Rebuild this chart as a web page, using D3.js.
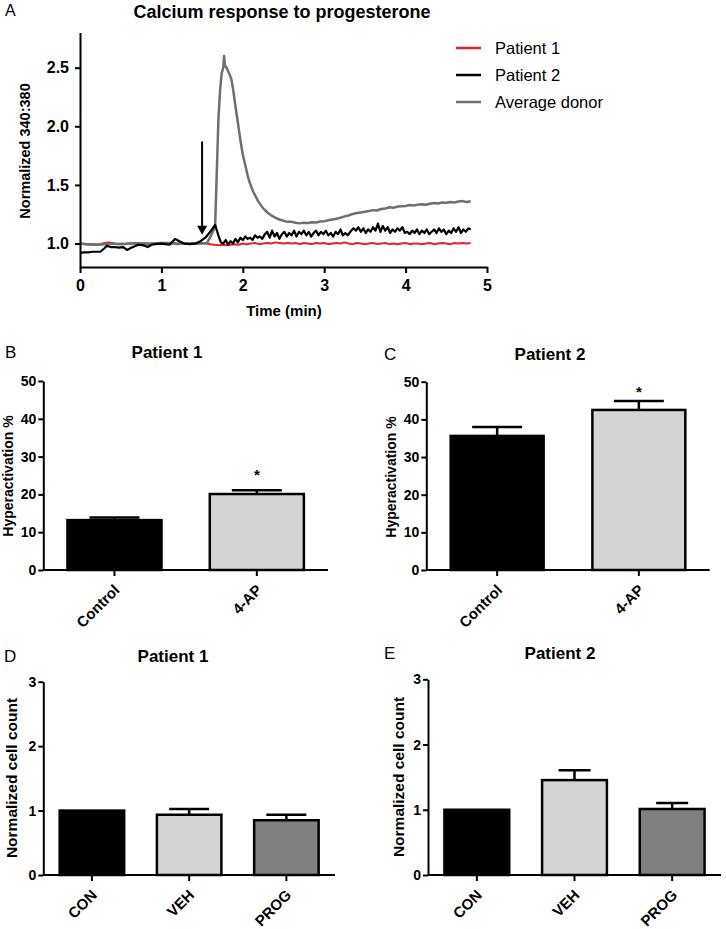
<!DOCTYPE html>
<html>
<head>
<meta charset="utf-8">
<script src="https://cdn.jsdelivr.net/npm/d3@7"></script>
<style>
  html, body { margin: 0; padding: 0; background: #fff; }
  svg { display: block; font-family: "Liberation Sans", Arial, sans-serif; }
</style>
</head>
<body>
<svg id="chart" width="726" height="929"></svg>
<script>
// ---------------- DATA ----------------
// Panel A: calcium response (time in min, normalized 340:380)
const patient1Trace = [
  [0.00,1.000],[0.05,0.995],[0.10,0.990],[0.15,0.995],[0.20,0.990],[0.25,0.995],[0.30,1.005],[0.35,1.010],
  [0.40,1.005],[0.45,0.995],[0.50,1.000],[0.55,0.995],[0.60,1.000],[0.65,1.000],[0.70,1.005],[0.75,1.000],
  [0.80,1.000],[0.85,0.995],[0.90,1.000],[0.95,1.000],[1.00,1.000],[1.05,1.000],[1.10,1.005],[1.15,1.000],
  [1.20,0.995],[1.25,1.000],[1.30,1.000],[1.35,1.000],[1.40,1.005],[1.45,1.000],[1.50,1.005],[1.55,1.000],
  [1.60,0.995],[1.65,0.990],[1.70,0.985],[1.75,0.990],[1.80,0.985],[1.85,0.990],[1.90,0.995],[1.95,0.990],
  [2.00,1.000],[2.05,0.995],[2.10,1.000],[2.15,1.005],[2.20,0.995],[2.25,1.000],[2.30,1.005],[2.35,1.000],
  [2.40,1.010],[2.45,1.005],[2.50,1.000],[2.55,1.005],[2.60,1.000],[2.65,1.005],[2.70,0.995],[2.75,1.005],
  [2.80,1.000],[2.85,0.995],[2.90,1.005],[2.95,1.000],[3.00,1.005],[3.05,0.995],[3.10,1.000],[3.15,1.005],
  [3.20,1.000],[3.25,1.010],[3.30,1.000],[3.35,0.995],[3.40,1.005],[3.45,1.000],[3.50,0.995],[3.55,1.000],
  [3.60,1.005],[3.65,0.995],[3.70,1.000],[3.75,1.005],[3.80,0.995],[3.85,1.000],[3.90,0.995],[3.95,1.000],
  [4.00,1.005],[4.05,0.995],[4.10,1.000],[4.15,1.000],[4.20,0.995],[4.25,1.000],[4.30,1.005],[4.35,0.995],
  [4.40,1.000],[4.45,1.005],[4.50,1.000],[4.55,0.995],[4.60,1.005],[4.65,1.000],[4.70,1.005],[4.75,1.000],[4.80,1.005]
];
const patient2Trace = [
  [0.00,0.920],[0.05,0.925],[0.10,0.925],[0.15,0.930],[0.20,0.930],[0.25,0.930],[0.30,0.960],[0.33,0.980],
  [0.38,0.970],[0.43,0.970],[0.48,0.965],[0.53,0.970],[0.58,0.945],[0.63,0.965],[0.68,0.980],[0.72,0.990],
  [0.78,0.985],[0.83,0.970],[0.88,0.990],[0.93,0.995],[1.00,1.000],[1.05,0.995],[1.10,0.990],[1.17,1.040],
  [1.22,1.020],[1.28,1.000],[1.35,0.995],[1.42,1.000],[1.48,1.020],[1.54,1.050],[1.60,1.100],[1.66,1.160],
  [1.70,1.070],[1.73,1.010],[1.76,1.000],[1.79,1.030],[1.82,0.990],[1.85,1.020],[1.88,1.000],[1.91,1.040],
  [1.94,1.010],[1.97,1.050],[2.00,1.030],[2.03,1.060],[2.06,1.040],[2.09,1.050],[2.12,1.030],[2.15,1.070],
  [2.18,1.050],[2.21,1.060],[2.24,1.040],[2.27,1.080],[2.30,1.100],[2.33,1.050],[2.36,1.110],[2.39,1.060],
  [2.42,1.090],[2.45,1.040],[2.48,1.080],[2.51,1.100],[2.54,1.060],[2.57,1.090],[2.60,1.070],[2.63,1.110],
  [2.66,1.060],[2.69,1.100],[2.72,1.080],[2.75,1.110],[2.78,1.070],[2.81,1.100],[2.84,1.060],[2.87,1.090],
  [2.90,1.110],[2.93,1.070],[2.96,1.100],[2.99,1.080],[3.02,1.110],[3.05,1.070],[3.08,1.090],[3.11,1.060],
  [3.14,1.100],[3.17,1.080],[3.20,1.120],[3.23,1.070],[3.26,1.090],[3.29,1.070],[3.32,1.100],[3.36,1.130],
  [3.39,1.110],[3.42,1.140],[3.45,1.100],[3.48,1.130],[3.51,1.090],[3.54,1.120],[3.57,1.100],[3.60,1.140],
  [3.63,1.110],[3.66,1.170],[3.69,1.100],[3.72,1.150],[3.75,1.110],[3.78,1.140],[3.81,1.090],[3.84,1.120],
  [3.87,1.100],[3.90,1.130],[3.93,1.110],[3.96,1.140],[3.99,1.090],[4.02,1.100],[4.05,1.080],[4.08,1.110],
  [4.11,1.090],[4.14,1.120],[4.17,1.080],[4.20,1.110],[4.23,1.090],[4.26,1.120],[4.29,1.080],[4.32,1.100],
  [4.35,1.120],[4.38,1.090],[4.41,1.130],[4.44,1.100],[4.47,1.120],[4.50,1.080],[4.53,1.110],[4.56,1.090],
  [4.59,1.130],[4.62,1.100],[4.65,1.140],[4.68,1.090],[4.71,1.120],[4.74,1.100],[4.77,1.130],[4.80,1.120]
];
const donorTrace = [
  [0.00,1.000],[0.10,0.995],[0.20,0.990],[0.30,0.995],[0.40,1.000],[0.50,0.995],[0.60,1.000],[0.70,1.000],
  [0.80,1.000],[0.90,1.000],[1.00,1.005],[1.10,1.005],[1.20,1.000],[1.30,1.000],[1.40,1.000],[1.50,1.000],
  [1.56,1.005],[1.61,1.070],[1.66,1.140],[1.68,1.600],[1.70,2.050],[1.72,2.300],[1.74,2.450],[1.76,2.500],
  [1.77,2.600],[1.78,2.520],[1.80,2.500],[1.82,2.470],[1.84,2.440],[1.86,2.400],[1.88,2.320],[1.90,2.220],
  [1.92,2.120],[1.94,2.030],[1.96,1.930],[1.98,1.840],[2.00,1.760],[2.02,1.700],[2.04,1.640],[2.06,1.580],
  [2.08,1.530],[2.10,1.490],[2.13,1.440],[2.16,1.400],[2.19,1.360],[2.22,1.330],[2.25,1.300],[2.28,1.280],
  [2.31,1.260],[2.35,1.240],[2.40,1.220],[2.45,1.205],[2.50,1.195],[2.55,1.185],[2.60,1.185],[2.65,1.178],
  [2.70,1.172],[2.75,1.178],[2.80,1.175],[2.85,1.182],[2.90,1.180],[2.95,1.188],[3.00,1.190],[3.05,1.198],
  [3.10,1.205],[3.15,1.212],[3.20,1.220],[3.25,1.232],[3.30,1.240],[3.35,1.252],[3.40,1.260],[3.45,1.265],
  [3.50,1.272],[3.55,1.278],[3.60,1.285],[3.65,1.282],[3.70,1.295],[3.75,1.298],[3.80,1.310],[3.85,1.306],
  [3.90,1.315],[3.95,1.318],[4.00,1.320],[4.05,1.328],[4.10,1.325],[4.15,1.332],[4.20,1.335],[4.25,1.331],
  [4.30,1.340],[4.35,1.345],[4.40,1.342],[4.45,1.350],[4.50,1.348],[4.55,1.355],[4.60,1.350],[4.65,1.358],
  [4.70,1.362],[4.75,1.355],[4.80,1.360]
];
const traceNames = ["Patient 1", "Patient 2", "Average donor"];
const timeTicks = [0, 1, 2, 3, 4, 5];
const ratioTicks = [1.0, 1.5, 2.0, 2.5];
const arrowTime = 1.5, arrowFrom = 1.87, arrowTo = 1.075;

// Panels B / C: hyperactivation %
const hyperCategories = ["Control", "4-AP"];
const hyperP1 = [13.2, 20.1];
const hyperP1Err = [0.7, 1.0];
const hyperP2 = [35.6, 42.5];
const hyperP2Err = [2.4, 2.4];
const hyperTicks = [0, 10, 20, 30, 40, 50];
const hyperStar = [26, 48];   // height (value units) of the * above 4-AP in B, C

// Panels D / E: normalized cell count
const countCategories = ["CON", "VEH", "PROG"];
const countP1 = [1.0, 0.935, 0.85];
const countP1Err = [0, 0.09, 0.085];
const countP2 = [1.0, 1.455, 1.012];
const countP2Err = [0, 0.15, 0.09];
const countTicks = [0, 1, 2, 3];

// ---------------- DRAW ----------------
const svg = d3.select("#chart");
const FONT = '"Liberation Sans", Arial, sans-serif';
const RED = "#e8202a", GRAY_LINE = "#6f6f6f";
const LIGHT = "#d4d4d4", DARK = "#808080";

function styleAxis(g, fs) {
  g.selectAll("path.domain").attr("stroke", "#000").attr("stroke-width", 2);
  g.selectAll(".tick line").attr("stroke", "#000").attr("stroke-width", 2);
  g.selectAll(".tick text").attr("fill", "#000").attr("font-size", fs)
    .attr("font-weight", "bold").attr("font-family", FONT);
}

// ---- Panel A ----
(function () {
  const x = d3.scaleLinear().domain([0, 5]).range([80, 487]);
  const y = d3.scaleLinear().domain([0.8, 2.8]).range([267, 32.5]);

  svg.append("text").attr("x", 5).attr("y", 16).attr("font-size", 16).text("A");
  svg.append("text").attr("x", 282).attr("y", 18).attr("text-anchor", "middle")
    .attr("font-size", 18).attr("font-weight", "bold").text("Calcium response to progesterone");

  const line = d3.line().x(d => x(d[0])).y(d => y(d[1]));
  const traces = [patient1Trace, patient2Trace, donorTrace];
  const colors = [RED, "#000", GRAY_LINE];
  const widths = [2, 2.2, 2.5];
  [0, 2, 1].forEach(i => {
    svg.append("path").datum(traces[i]).attr("d", line)
      .attr("fill", "none").attr("stroke", colors[i]).attr("stroke-width", widths[i])
      .attr("stroke-linejoin", "round");
  });

  // arrow
  const ax = x(arrowTime), ay0 = y(arrowFrom), ay1 = y(arrowTo);
  svg.append("line").attr("x1", ax).attr("x2", ax).attr("y1", ay0).attr("y2", ay1 - 6)
    .attr("stroke", "#000").attr("stroke-width", 2);
  svg.append("path")
    .attr("d", `M${ax - 5},${ay1 - 9} L${ax + 5},${ay1 - 9} L${ax},${ay1} Z`)
    .attr("fill", "#000");

  const gx = svg.append("g").attr("transform", "translate(0,267)")
    .call(d3.axisBottom(x).tickValues(timeTicks).tickFormat(d3.format("d")).tickSize(6).tickSizeOuter(0).tickPadding(7));
  styleAxis(gx, 16);
  const gy = svg.append("g").attr("transform", "translate(80,0)")
    .call(d3.axisLeft(y).tickValues(ratioTicks).tickFormat(d3.format(".1f")).tickSize(5).tickSizeOuter(0).tickPadding(6));
  styleAxis(gy, 16);

  svg.append("text").attr("x", 284).attr("y", 316).attr("text-anchor", "middle")
    .attr("font-size", 15).attr("font-weight", "bold").text("Time (min)");
  svg.append("text").attr("transform", "translate(30,151) rotate(-90)").attr("text-anchor", "middle")
    .attr("font-size", 14.5).attr("font-weight", "bold").text("Normalized 340:380");

  // legend
  const ly = [48, 75, 102];
  traceNames.forEach((name, i) => {
    svg.append("line").attr("x1", 456).attr("x2", 481).attr("y1", ly[i]).attr("y2", ly[i])
      .attr("stroke", colors[i]).attr("stroke-width", 2.5);
    svg.append("text").attr("x", 495).attr("y", ly[i] + 6).attr("font-size", 16.5).text(name);
  });
})();

// ---- Bar panels ----
function barPanel(opt) {
  const x = d3.scaleBand().domain(opt.cats).range(opt.xr)
    .paddingInner(opt.pad).paddingOuter(opt.pad / 2);
  const y = d3.scaleLinear().domain(opt.domain).range(opt.yr);

  svg.append("text").attr("x", opt.letter[0]).attr("y", opt.letter[1]).attr("font-size", 17).text(opt.letterText);
  svg.append("text").attr("x", opt.title[0]).attr("y", opt.title[1]).attr("text-anchor", "middle")
    .attr("font-size", 17).attr("font-weight", "bold").text(opt.titleText);

  const bw = x.bandwidth();
  opt.cats.forEach((c, i) => {
    const v = opt.vals[i], e = opt.errs[i];
    const cx = x(c) + bw / 2;
    if (e > 0) {
      svg.append("line").attr("x1", cx).attr("x2", cx).attr("y1", y(v)).attr("y2", y(v + e))
        .attr("stroke", "#000").attr("stroke-width", 2.5);
      svg.append("line").attr("x1", cx - opt.cap / 2).attr("x2", cx + opt.cap / 2)
        .attr("y1", y(v + e)).attr("y2", y(v + e)).attr("stroke", "#000").attr("stroke-width", 2.5);
    }
    svg.append("rect").attr("x", x(c) + 1).attr("y", y(v)).attr("width", bw - 2)
      .attr("height", y(0) - y(v)).attr("fill", opt.colors[i])
      .attr("stroke", "#000").attr("stroke-width", 2.5);
  });

  if (opt.star != null) {
    const c = opt.cats[1];
    svg.append("text").attr("x", x(c) + bw / 2).attr("y", y(opt.star) + 8)
      .attr("text-anchor", "middle").attr("font-size", 15).attr("font-weight", "bold").text("*");
  }

  const gy = svg.append("g").attr("transform", `translate(${opt.xr[0]},0)`)
    .call(d3.axisLeft(y).tickValues(opt.ticks).tickFormat(d3.format("d")).tickSize(5).tickSizeOuter(0).tickPadding(2));
  styleAxis(gy, 14);
  const gx = svg.append("g").attr("transform", `translate(0,${opt.yr[0]})`)
    .call(d3.axisBottom(x).tickSize(6).tickSizeOuter(0));
  styleAxis(gx, 15);
  gx.select("path.domain").attr("d", `M${opt.xr[0]},0H${opt.xr[1]}`);
  gx.selectAll(".tick text").attr("text-anchor", "end").attr("dy", null).attr("y", null)
    .attr("transform", "translate(6,21) rotate(-45)");

  svg.append("text").attr("transform", `translate(${opt.ylab[0]},${opt.ylab[1]}) rotate(-90)`)
    .attr("text-anchor", "middle").attr("font-size", opt.ylabSize).attr("font-weight", "bold").text(opt.ylabText);
}

barPanel({
  cats: hyperCategories, vals: hyperP1, errs: hyperP1Err, colors: ["#000", LIGHT],
  xr: [43.3, 328], yr: [570, 381], domain: [0, 50], ticks: hyperTicks, pad: 0.325, cap: 50,
  letter: [5, 358], letterText: "B", title: [167, 358], titleText: "Patient 1",
  ylab: [13, 476], ylabText: "Hyperactivation %", ylabSize: 14, star: hyperStar[0]
});
barPanel({
  cats: hyperCategories, vals: hyperP2, errs: hyperP2Err, colors: ["#000", LIGHT],
  xr: [426.3, 709.7], yr: [570, 381.7], domain: [0, 50], ticks: hyperTicks, pad: 0.33, cap: 50,
  letter: [384, 360], letterText: "C", title: [550, 360], titleText: "Patient 2",
  ylab: [396, 477], ylabText: "Hyperactivation %", ylabSize: 14, star: hyperStar[1]
});
barPanel({
  cats: countCategories, vals: countP1, errs: countP1Err, colors: ["#000", LIGHT, DARK],
  xr: [43.3, 335], yr: [875, 681.7], domain: [0, 3], ticks: countTicks, pad: 0.316, cap: 40,
  letter: [4, 662], letterText: "D", title: [173, 662], titleText: "Patient 1",
  ylab: [16.5, 778], ylabText: "Normalized cell count", ylabSize: 15.5, star: null
});
barPanel({
  cats: countCategories, vals: countP2, errs: countP2Err, colors: ["#000", LIGHT, DARK],
  xr: [428, 721], yr: [875, 679.3], domain: [0, 3], ticks: countTicks, pad: 0.316, cap: 32,
  letter: [384, 659], letterText: "E", title: [560, 659], titleText: "Patient 2",
  ylab: [403.5, 777], ylabText: "Normalized cell count", ylabSize: 15.5, star: null
});
</script>
</body>
</html>
